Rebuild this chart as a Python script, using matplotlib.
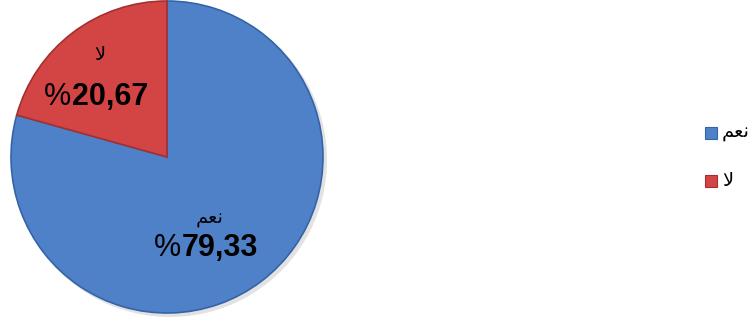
import matplotlib
matplotlib.use("Agg")
import matplotlib.pyplot as plt
from matplotlib.patches import Rectangle
import numpy as np

# Data
categories = ["نعم", "لا"]
values = [79.33, 20.67]
value_numbers = ["79,33", "20,67"]
colors = ["#4F81C9", "#D34545"]
edge_colors = ["#3563A8", "#A33030"]

# Visual (pre-shaped) forms of the Arabic labels, since matplotlib does not shape Arabic
shaped = {"نعم": "\uFEE2\uFECC\uFEE7", "لا": "\uFEFB"}

W, H = 753, 318
fig = plt.figure(figsize=(W / 100, H / 100), dpi=100)
ax = fig.add_axes([0, 0, 1, 1])

cx, cy, r = 167, 161, 156
# soft shadow
ax.pie([1], colors=["#e2e2e2"], center=(cx + 3, cy - 3), radius=r + 1,
       wedgeprops=dict(linewidth=0), frame=True)
wedges, _ = ax.pie(values, colors=colors, startangle=90, counterclock=False,
                   center=(cx, cy), radius=r, frame=True,
                   wedgeprops=dict(linewidth=1.2))
for w, ec in zip(wedges, edge_colors):
    w.set_edgecolor(ec)
ax.set_xlim(0, W)
ax.set_ylim(0, H)
ax.set_aspect("equal")
ax.axis("off")

# Labels: (arabic x, y), (split x, y) for number
label_pos = [((210, 100), (182, 70)), ((100, 264), (72, 221))]
for cat, num, ((ax1, ay1), (sx, sy)) in zip(categories, value_numbers, label_pos):
    ax.text(ax1, ay1, shaped[cat], ha="center", va="center", fontsize=14,
            family=["DejaVu Sans"], color="black")
    ax.text(sx, sy, num, ha="left", va="center", fontsize=22,
            fontweight="bold", family=["Liberation Sans"], color="black")
    ax.text(sx - 1, sy, "%", ha="right", va="center", fontsize=22,
            fontweight="normal", family=["Liberation Sans"], color="black")

# Legend
leg_y = [185, 137]
for cat, c, ec, y in zip(categories, colors, edge_colors, leg_y):
    ax.add_patch(Rectangle((705, y - 6), 12, 12, facecolor=c, edgecolor=ec, lw=0.8))
    ax.text(722, y, shaped[cat], ha="left", va="center", fontsize=14,
            family=["DejaVu Sans"], color="black")

fig.savefig("out.png", dpi=100)
